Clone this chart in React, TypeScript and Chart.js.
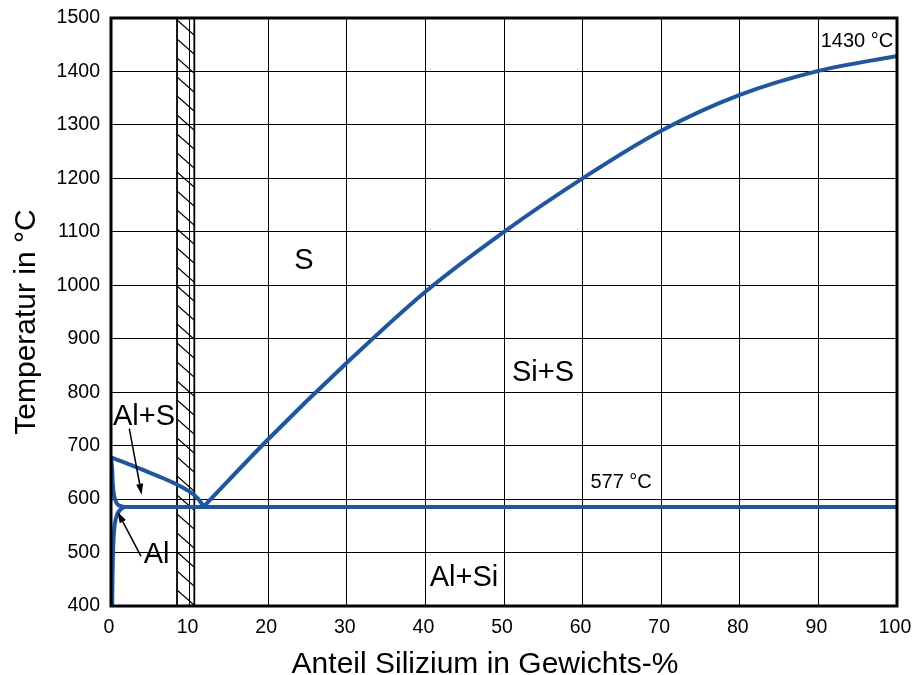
import React, { useEffect, useRef } from 'react';
import { Chart, registerables } from 'chart.js';

Chart.register(...registerables);

// ---- data (weight-% Si, temperature °C) ----
const xTicks = [0, 10, 20, 30, 40, 50, 60, 70, 80, 90, 100];
const yTicks = [400, 500, 600, 700, 800, 900, 1000, 1100, 1200, 1300, 1400, 1500];

// liquidus, Si-rich side (eutectic -> Si melting point)
const liqSiX = [11.8, 20, 30, 40, 50, 60, 70, 80, 90, 100];
const liqSiY = [586, 712, 855, 988, 1100, 1200, 1289, 1356, 1401, 1429];
// liquidus, Al-rich side
const liqAlX = [0, 2, 4, 6, 8, 10, 11, 11.8];
const liqAlY = [678, 667, 655, 643, 630, 614, 602, 586];
// solidus (Al side)
const solX = [0, 0.15, 0.22, 0.35, 0.55, 0.85, 1.6];
const solY = [678, 655, 630, 610, 598, 590, 585];
// solvus (Al side)
const solvX = [1.6, 1.05, 0.75, 0.5, 0.36, 0.28, 0.22, 0.18, 0.15];
const solvY = [585, 578, 570, 555, 535, 510, 475, 440, 400];
// eutectic line
const eutX = [1.6, 100];
const eutY = [585, 585];

// hatched band (weight-% Si)
const hatchRange = [8.4, 10.6];

// region labels (data coordinates, text baseline)
const bigLabels = ['S', 'Si+S', 'Al+Si', 'Al+S', 'Al'];
const bigLabelX = [24.55, 54.96, 44.9, 4.2, 5.81];
const bigLabelY = [1030, 821, 437, 739, 480];
const smallLabels = ['577 °C', '1430 °C'];
const smallLabelX = [64.9, 94.9];
const smallLabelY = [621, 1446];

// arrows (data coordinates)
const arrowFromX = [2.33, 3.82];
const arrowFromY = [732, 493];
const arrowToX = [3.9, 0.85];
const arrowToY = [608, 576];

const xTitle = 'Anteil Silizium in Gewichts-%';
const yTitle = 'Temperatur in °C';

const BLUE = '#1c56a6';
const FONT = '"Liberation Sans", Arial, Helvetica, sans-serif';

const toPts = (xs: number[], ys: number[]) => xs.map((x, i) => ({ x, y: ys[i] }));

const decorPlugin = {
  id: 'decor',
  beforeDatasetsDraw(chart: any) {
    const { ctx, chartArea: a, scales } = chart;
    const xs = scales.x;
    const x0 = xs.getPixelForValue(hatchRange[0]);
    const x1 = xs.getPixelForValue(hatchRange[1]);
    ctx.save();
    ctx.beginPath();
    ctx.rect(a.left, a.top, a.right - a.left, a.bottom - a.top);
    ctx.clip();
    ctx.strokeStyle = '#000';
    ctx.lineWidth = 1.8;
    ctx.beginPath();
    ctx.moveTo(x0, a.top);
    ctx.lineTo(x0, a.bottom);
    ctx.moveTo(x1, a.top);
    ctx.lineTo(x1, a.bottom);
    ctx.stroke();
    ctx.lineWidth = 1.1;
    const step = 19;
    const drop = (x1 - x0) * 0.88;
    ctx.beginPath();
    for (let y = a.top + 2; y < a.bottom + step; y += step) {
      ctx.moveTo(x0, y);
      ctx.lineTo(x1, y + drop);
    }
    ctx.stroke();
    ctx.restore();
  },
  afterDatasetsDraw(chart: any) {
    const { ctx, chartArea: a, scales } = chart;
    const xs = scales.x;
    const ys = scales.y;
    ctx.save();
    // frame
    ctx.strokeStyle = '#000';
    ctx.lineWidth = 3;
    ctx.strokeRect(a.left, a.top, a.right - a.left, a.bottom - a.top);

    ctx.fillStyle = '#000';
    ctx.textAlign = 'center';
    ctx.textBaseline = 'alphabetic';
    ctx.font = `29px ${FONT}`;
    bigLabels.forEach((t, i) => {
      ctx.fillText(t, xs.getPixelForValue(bigLabelX[i]), ys.getPixelForValue(bigLabelY[i]));
    });
    ctx.font = `20px ${FONT}`;
    smallLabels.forEach((t, i) => {
      ctx.fillText(t, xs.getPixelForValue(smallLabelX[i]), ys.getPixelForValue(smallLabelY[i]));
    });

    // arrows
    ctx.lineWidth = 1.5;
    arrowFromX.forEach((_, i) => {
      const fx = xs.getPixelForValue(arrowFromX[i]);
      const fy = ys.getPixelForValue(arrowFromY[i]);
      const tx = xs.getPixelForValue(arrowToX[i]);
      const ty = ys.getPixelForValue(arrowToY[i]);
      const ang = Math.atan2(ty - fy, tx - fx);
      const len = 11;
      const half = 3.5;
      const bx = tx - len * Math.cos(ang);
      const by = ty - len * Math.sin(ang);
      ctx.beginPath();
      ctx.moveTo(fx, fy);
      ctx.lineTo(bx, by);
      ctx.stroke();
      ctx.beginPath();
      ctx.moveTo(tx, ty);
      ctx.lineTo(bx + half * Math.sin(ang), by - half * Math.cos(ang));
      ctx.lineTo(bx - half * Math.sin(ang), by + half * Math.cos(ang));
      ctx.closePath();
      ctx.fill();
    });

    // axis titles
    ctx.font = `30px ${FONT}`;
    ctx.textAlign = 'center';
    ctx.textBaseline = 'alphabetic';
    ctx.fillText(xTitle, (a.left + a.right) / 2 - 19, 673);
    ctx.save();
    ctx.translate(27, 322);
    ctx.rotate(-Math.PI / 2);
    ctx.textBaseline = 'middle';
    ctx.fillText(yTitle, 0, 0);
    ctx.restore();
    ctx.restore();
  },
};

export default function App() {
  const ref = useRef<HTMLCanvasElement | null>(null);

  useEffect(() => {
    document.body.style.margin = '0';
    if (!ref.current) return;
    const lineDs = (xs: number[], ys: number[], tension: number) => ({
      data: toPts(xs, ys),
      borderColor: BLUE,
      borderWidth: 4,
      pointRadius: 0,
      fill: false,
      tension,
      borderCapStyle: 'round' as const,
      borderJoinStyle: 'round' as const,
    });
    const chart = new Chart(ref.current, {
      type: 'line',
      data: {
        datasets: [
          { ...lineDs(liqSiX, liqSiY, 0), cubicInterpolationMode: 'monotone' as const },
          lineDs(liqAlX, liqAlY, 0.4),
          lineDs(solX, solY, 0.4),
          lineDs(solvX, solvY, 0.4),
          lineDs(eutX, eutY, 0),
        ],
      },
      options: {
        animation: false,
        responsive: false,
        devicePixelRatio: 1,
        parsing: false as any,
        layout: { padding: { top: 18, right: 17, bottom: 0, left: 0 } },
        plugins: {
          legend: { display: false },
          tooltip: { enabled: false },
        },
        scales: {
          x: {
            type: 'linear',
            min: 0,
            max: 100,
            afterBuildTicks: (s: any) => {
              s.ticks = xTicks.map((v) => ({ value: v }));
            },
            afterFit: (s: any) => {
              s.height = 69;
              s.paddingLeft = 0;
              s.paddingRight = 0;
            },
            grid: { color: '#000', lineWidth: 1, drawTicks: false },
            border: { display: false },
            ticks: {
              color: '#000',
              padding: 10,
              labelOffset: -2,
              maxRotation: 0,
              autoSkip: false,
              font: { family: FONT, size: 19.5 },
              callback: (v: any) => String(v),
            },
          },
          y: {
            type: 'linear',
            min: 400,
            max: 1500,
            afterBuildTicks: (s: any) => {
              s.ticks = yTicks.map((v) => ({ value: v }));
            },
            afterFit: (s: any) => {
              s.width = 111;
              s.paddingTop = 0;
              s.paddingBottom = 0;
            },
            grid: { color: '#000', lineWidth: 1, drawTicks: false },
            border: { display: false },
            ticks: {
              color: '#000',
              padding: 11,
              autoSkip: false,
              font: { family: FONT, size: 19.5 },
              callback: (v: any) => String(v),
            },
          },
        },
      },
      plugins: [decorPlugin],
    });
    return () => chart.destroy();
  }, []);

  return (
    <div style={{ position: 'fixed', left: 0, top: 0, width: 914, height: 675, background: '#fff' }}>
      <canvas ref={ref} width={914} height={675} style={{ display: 'block', width: 914, height: 675 }} />
    </div>
  );
}
